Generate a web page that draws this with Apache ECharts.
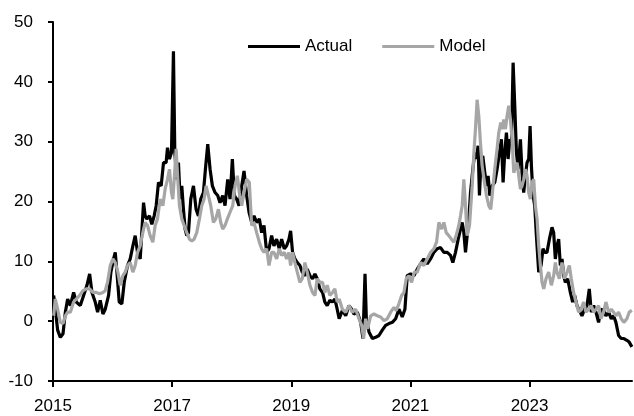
<!DOCTYPE html>
<html>
<head>
<meta charset="utf-8">
<script src="https://cdn.jsdelivr.net/npm/echarts@6/dist/echarts.min.js"></script>
<style>
  html, body { margin: 0; padding: 0; background: #fff; }
  #chart { width: 634px; height: 416px; }
</style>
</head>
<body>
<div id="chart"></div>
<script>
  // decimal years and values
  var actualYears = [
    2015.011, 2015.039, 2015.078, 2015.123, 2015.168, 2015.207, 2015.246, 2015.291, 2015.346, 2015.391,
    2015.458, 2015.514, 2015.570, 2015.615, 2015.654, 2015.709, 2015.749, 2015.793, 2015.838, 2015.877,
    2015.933, 2015.972, 2016.017, 2016.045, 2016.073, 2016.112, 2016.156, 2016.196, 2016.251, 2016.296,
    2016.341, 2016.380, 2016.419, 2016.464, 2016.520, 2016.547, 2016.575, 2016.620, 2016.659, 2016.698,
    2016.732, 2016.771, 2016.816, 2016.855, 2016.899, 2016.922, 2016.955, 2016.989, 2017.022, 2017.045,
    2017.078, 2017.106, 2017.134, 2017.162, 2017.190, 2017.218, 2017.246, 2017.274, 2017.313, 2017.358,
    2017.402, 2017.441, 2017.480, 2017.525, 2017.564, 2017.598, 2017.637, 2017.676, 2017.721, 2017.765,
    2017.804, 2017.849, 2017.888, 2017.933, 2017.972, 2018.011, 2018.045, 2018.084, 2018.123, 2018.168,
    2018.207, 2018.251, 2018.291, 2018.335, 2018.374, 2018.419, 2018.464, 2018.503, 2018.542, 2018.587,
    2018.626, 2018.670, 2018.709, 2018.754, 2018.799, 2018.838, 2018.883, 2018.922, 2018.961, 2018.989,
    2019.022, 2019.061, 2019.101, 2019.145, 2019.184, 2019.229, 2019.268, 2019.313, 2019.358, 2019.397,
    2019.436, 2019.480, 2019.525, 2019.564, 2019.603, 2019.648, 2019.693, 2019.732, 2019.771, 2019.804,
    2019.858, 2019.914, 2019.969, 2020.014, 2020.053, 2020.109, 2020.165, 2020.204, 2020.238, 2020.260,
    2020.305, 2020.361, 2020.416, 2020.472, 2020.528, 2020.584, 2020.640, 2020.696, 2020.752, 2020.807,
    2020.863, 2020.908, 2020.947, 2021.003, 2021.059, 2021.115, 2021.171, 2021.226, 2021.282, 2021.338,
    2021.394, 2021.450, 2021.506, 2021.562, 2021.618, 2021.673, 2021.712, 2021.757, 2021.802, 2021.841,
    2021.869, 2021.897, 2021.925, 2021.953, 2021.981, 2022.009, 2022.048, 2022.081, 2022.104, 2022.137,
    2022.159, 2022.187, 2022.215, 2022.249, 2022.277, 2022.305, 2022.333, 2022.372, 2022.416, 2022.455,
    2022.495, 2022.528, 2022.556, 2022.584, 2022.612, 2022.640, 2022.668, 2022.696, 2022.724, 2022.752,
    2022.780, 2022.807, 2022.847, 2022.874, 2022.902, 2022.930, 2022.958, 2022.986, 2023.009, 2023.031,
    2023.059, 2023.087, 2023.115, 2023.154, 2023.193, 2023.226, 2023.254, 2023.293, 2023.333, 2023.377,
    2023.405, 2023.433, 2023.461, 2023.489, 2023.517, 2023.545, 2023.573, 2023.601, 2023.640, 2023.685,
    2023.724, 2023.757, 2023.796, 2023.835, 2023.880, 2023.925, 2023.964, 2024.003, 2024.037, 2024.076,
    2024.115, 2024.159, 2024.199, 2024.243, 2024.282, 2024.327, 2024.372, 2024.411, 2024.450, 2024.495,
    2024.539, 2024.584, 2024.634, 2024.673, 2024.718
  ];
  var actualValues = [
    4.3, 2, -1.5, -2.7, -2.1, 1.5, 3.7, 2.6, 4.8, 3.2,
    2.6, 4.3, 6, 7.9, 4.8, 3.2, 1.5, 3.5, 1.2, 2,
    4.3, 8.2, 10.4, 11.5, 8.2, 3.2, 2.9, 6.5, 9.3, 10.4,
    12.6, 14.3, 11.5, 10.4, 19.8, 17.6, 17.1, 17.6, 16.2, 17.6,
    19.3, 23.2, 22.6, 26.5, 26.5, 29, 27.1, 28.2, 45.1, 28.2,
    23.7, 26.5, 20.4, 22.6, 18.7, 15.4, 14.3, 14.8, 20.4, 22.6,
    18.7, 17.6, 20.4, 21.5, 26, 29.6, 25.4, 22.6, 21.5, 21,
    19.8, 21, 19.3, 23.7, 20.4, 27.1, 21, 20.4, 19.3, 22.6,
    25.1, 21, 18.2, 16.5, 17.6, 16.5, 17.1, 14.8, 16, 11.5,
    12.1, 14.3, 12.6, 13.7, 12.1, 13.7, 12.1, 12.6, 13.7, 15.1,
    11.5, 10.4, 9.8, 9.3, 8.2, 7.6, 8.7, 7.6, 7.1, 7.9,
    7.1, 5.4, 4.8, 3.2, 2.6, 3.5, 3.2, 3.7, 2, 0.4,
    1.8, 0.9, 2.6, 2, 1.2, 1.5, -0.2, -2.9, 7.9, 0.4,
    -1.8, -2.9, -2.7, -2.4, -1.5, -0.7, -0.4, -0.2, 0.4, 2,
    0.7, 2, 7.6, 7.9, 7.6, 8.7, 9.6, 10.4, 9.6, 10.4,
    11.5, 12.1, 12.3, 11.5, 11.5, 11, 9.8, 11.5, 13.7, 15.4,
    16.5, 14.8, 11.5, 11.2, 17.1, 21.5, 25.4, 28.2, 27.1, 29.3,
    21, 27.1, 27.6, 24.8, 22.6, 24.3, 21, 22.6, 23.2, 25.4,
    28.2, 30.4, 23.2, 28.2, 31.5, 27.1, 30.4, 29.8, 43.2, 36,
    28.2, 25.4, 30.4, 24.8, 21.5, 24.3, 26.5, 27.1, 32.6, 26,
    21, 19.3, 14.3, 8.2, 9.3, 12.1, 11.5, 11.5, 13.7, 15.7,
    14.8, 10.4, 12.6, 13.7, 9.3, 10.4, 7.6, 6.5, 7.1, 4.8,
    3.2, 4.3, 2.6, 1.8, 0.9, 2, 2.6, 5.4, 1.5, 2.6,
    1.5, -0.2, 2, 1.8, 0.9, 1.5, 0.4, 0.9, -0.2, -2.4,
    -2.9, -2.9, -3.2, -3.5, -4.3
  ];
  var modelYears = [
    2015.011, 2015.039, 2015.078, 2015.123, 2015.168, 2015.207, 2015.246, 2015.291, 2015.346, 2015.391,
    2015.447, 2015.503, 2015.559, 2015.615, 2015.670, 2015.726, 2015.782, 2015.838, 2015.877, 2015.916,
    2015.961, 2016.006, 2016.045, 2016.089, 2016.128, 2016.173, 2016.212, 2016.251, 2016.296, 2016.341,
    2016.380, 2016.419, 2016.464, 2016.508, 2016.547, 2016.587, 2016.631, 2016.676, 2016.715, 2016.754,
    2016.799, 2016.844, 2016.883, 2016.922, 2016.955, 2016.989, 2017.011, 2017.039, 2017.067, 2017.095,
    2017.123, 2017.162, 2017.201, 2017.246, 2017.291, 2017.330, 2017.369, 2017.413, 2017.458, 2017.497,
    2017.536, 2017.570, 2017.609, 2017.648, 2017.693, 2017.732, 2017.777, 2017.816, 2017.849, 2017.888,
    2017.927, 2017.972, 2018.017, 2018.056, 2018.095, 2018.128, 2018.168, 2018.207, 2018.251, 2018.296,
    2018.335, 2018.374, 2018.419, 2018.464, 2018.503, 2018.542, 2018.587, 2018.626, 2018.670, 2018.709,
    2018.754, 2018.799, 2018.838, 2018.883, 2018.922, 2018.961, 2018.989, 2019.022, 2019.061, 2019.101,
    2019.145, 2019.184, 2019.229, 2019.268, 2019.313, 2019.358, 2019.397, 2019.436, 2019.480, 2019.525,
    2019.564, 2019.603, 2019.648, 2019.693, 2019.732, 2019.771, 2019.804, 2019.858, 2019.914, 2019.969,
    2020.025, 2020.081, 2020.137, 2020.182, 2020.215, 2020.249, 2020.282, 2020.333, 2020.388, 2020.444,
    2020.500, 2020.556, 2020.612, 2020.668, 2020.724, 2020.763, 2020.807, 2020.852, 2020.891, 2020.930,
    2020.975, 2021.020, 2021.064, 2021.115, 2021.171, 2021.226, 2021.282, 2021.338, 2021.394, 2021.439,
    2021.478, 2021.523, 2021.562, 2021.601, 2021.645, 2021.690, 2021.729, 2021.768, 2021.813, 2021.841,
    2021.869, 2021.897, 2021.925, 2021.953, 2021.992, 2022.037, 2022.070, 2022.092, 2022.120, 2022.148,
    2022.176, 2022.204, 2022.243, 2022.277, 2022.316, 2022.349, 2022.383, 2022.416, 2022.455, 2022.483,
    2022.517, 2022.539, 2022.567, 2022.595, 2022.623, 2022.651, 2022.679, 2022.707, 2022.735, 2022.763,
    2022.791, 2022.819, 2022.847, 2022.874, 2022.902, 2022.930, 2022.958, 2022.986, 2023.014, 2023.042,
    2023.070, 2023.098, 2023.126, 2023.154, 2023.182, 2023.210, 2023.238, 2023.277, 2023.321, 2023.366,
    2023.405, 2023.433, 2023.461, 2023.500, 2023.545, 2023.589, 2023.629, 2023.668, 2023.701, 2023.740,
    2023.780, 2023.824, 2023.863, 2023.908, 2023.947, 2023.992, 2024.036, 2024.076, 2024.115, 2024.159,
    2024.199, 2024.243, 2024.282, 2024.327, 2024.372, 2024.411, 2024.450, 2024.495, 2024.539, 2024.584,
    2024.634, 2024.673, 2024.718
  ];
  var modelValues = [
    0.9, 3.7, 2, -0.2, -0.4, 0.9, 1.5, 1.5, 3.2, 3.7,
    4.3, 5.1, 5.4, 5.4, 4.8, 4.8, 4.6, 4.8, 5.1, 6.5,
    9.3, 10.4, 9.8, 8.2, 6, 7.6, 8.2, 9.3, 9.8, 8.2,
    9.3, 11.5, 12.6, 14.8, 16.5, 16, 14.3, 13.2, 16, 17.1,
    20.4, 19.3, 22.1, 23.7, 25.4, 21.5, 20.4, 24.3, 28.8, 23.7,
    19.3, 17.1, 16, 14.8, 13.7, 13.4, 13.7, 14.8, 17.1, 19.3,
    20.4, 22.6, 21, 19.3, 16.5, 17.1, 18.7, 16.5, 15.4, 16,
    17.1, 18.2, 19.3, 22.6, 24.3, 21.5, 19.3, 21.5, 23.7, 23.2,
    16, 16.5, 14.8, 13.2, 12.1, 11.5, 12.1, 9.3, 11.5, 11.5,
    10.4, 12.1, 11, 11.5, 10.4, 11.5, 9.3, 11.5, 9.8, 8.2,
    6.5, 7.1, 9.8, 8.2, 6, 4.8, 4.3, 7.1, 6.5, 6.5,
    4.8, 6, 4.3, 4.8, 5.4, 3.2, 3.7, 2, 1.5, 2.6,
    1.5, 2, 0.4, -0.7, -2.9, 0.4, -1.3, 0.9, 1.2, 0.9,
    0.7, 0.1, 0.4, 1.5, 2.3, 1.8, 2.9, 4.3, 4.8, 7.1,
    7.6, 6.5, 8.2, 8.2, 9.8, 9.3, 10.4, 11.5, 12.1, 13.2,
    16.5, 15.4, 16.5, 14.8, 14.3, 13.7, 13.2, 14.3, 16, 17.6,
    19.3, 23.7, 19.3, 14.3, 16, 22.6, 28.8, 32.1, 37, 34.3,
    29.8, 26, 23.2, 21, 19.3, 18.7, 22.1, 25.4, 28.8, 31.5,
    33.2, 32.1, 33.7, 32.1, 34.3, 36, 33.7, 30.4, 24.8, 24.8,
    26.5, 24.3, 22.1, 22.6, 23.7, 25.4, 24.3, 21.5, 20.4, 23.2,
    23.7, 19.3, 17.1, 12.6, 9.3, 6.5, 5.4, 7.1, 8.2, 6,
    7.6, 9.8, 8.2, 7.1, 9.8, 7.1, 8.2, 9.3, 7.1, 4.8,
    3.2, 1.5, 2, 3.2, 1.5, 2, 2.6, 1.5, 2, 2.6,
    0.4, 1.5, 3.2, 1.5, 2, 1.5, 0.9, 1.5, 0.4, -0.2,
    0.4, 1.5, 1.8
  ];
  var yearTicks = [2015, 2017, 2019, 2021, 2023];

  function pairs(xs, ys) {
    return xs.map(function (x, i) { return [x, ys[i]]; });
  }

  var font = "'Liberation Sans', Arial, sans-serif";

  var chart = echarts.init(document.getElementById('chart'));
  chart.setOption({
    animation: false,
    backgroundColor: '#fff',
    grid: {
      left: 53,
      right: 2,
      top: 22,
      bottom: 35
    },
    legend: {
      left: 243,
      top: 33,
      icon: 'rect',
      itemWidth: 52,
      itemHeight: 3,
      itemGap: 30,
      textStyle: { fontFamily: font, fontSize: 17, color: '#000' },
      data: ['Actual', 'Model']
    },
    xAxis: {
      type: 'value',
      min: 2015,
      max: 2024.72,
      splitLine: { show: false },
      axisLine: { onZero: false, lineStyle: { color: '#000', width: 2 } },
      axisTick: { customValues: yearTicks, length: 6, lineStyle: { color: '#000', width: 2 } },
      axisLabel: {
        customValues: yearTicks,
        margin: 17,
        fontFamily: font,
        fontSize: 17,
        color: '#000',
        formatter: function (v) { return String(Math.round(v)); }
      }
    },
    yAxis: {
      type: 'value',
      min: -10,
      max: 50,
      interval: 10,
      splitLine: { show: false },
      axisLine: { show: true, lineStyle: { color: '#000', width: 2 } },
      axisTick: { show: true, length: 5, lineStyle: { color: '#000', width: 2 } },
      axisLabel: { margin: 20, fontFamily: font, fontSize: 17, color: '#000' }
    },
    series: [{
      name: 'Actual',
      type: 'line',
      symbol: 'none',
      data: pairs(actualYears, actualValues),
      lineStyle: { color: '#000', width: 3.2 },
      itemStyle: { color: '#000' }
    }, {
      name: 'Model',
      type: 'line',
      symbol: 'none',
      data: pairs(modelYears, modelValues),
      lineStyle: { color: '#a6a6a6', width: 3.2 },
      itemStyle: { color: '#a6a6a6' }
    }]
  });
</script>
</body>
</html>
